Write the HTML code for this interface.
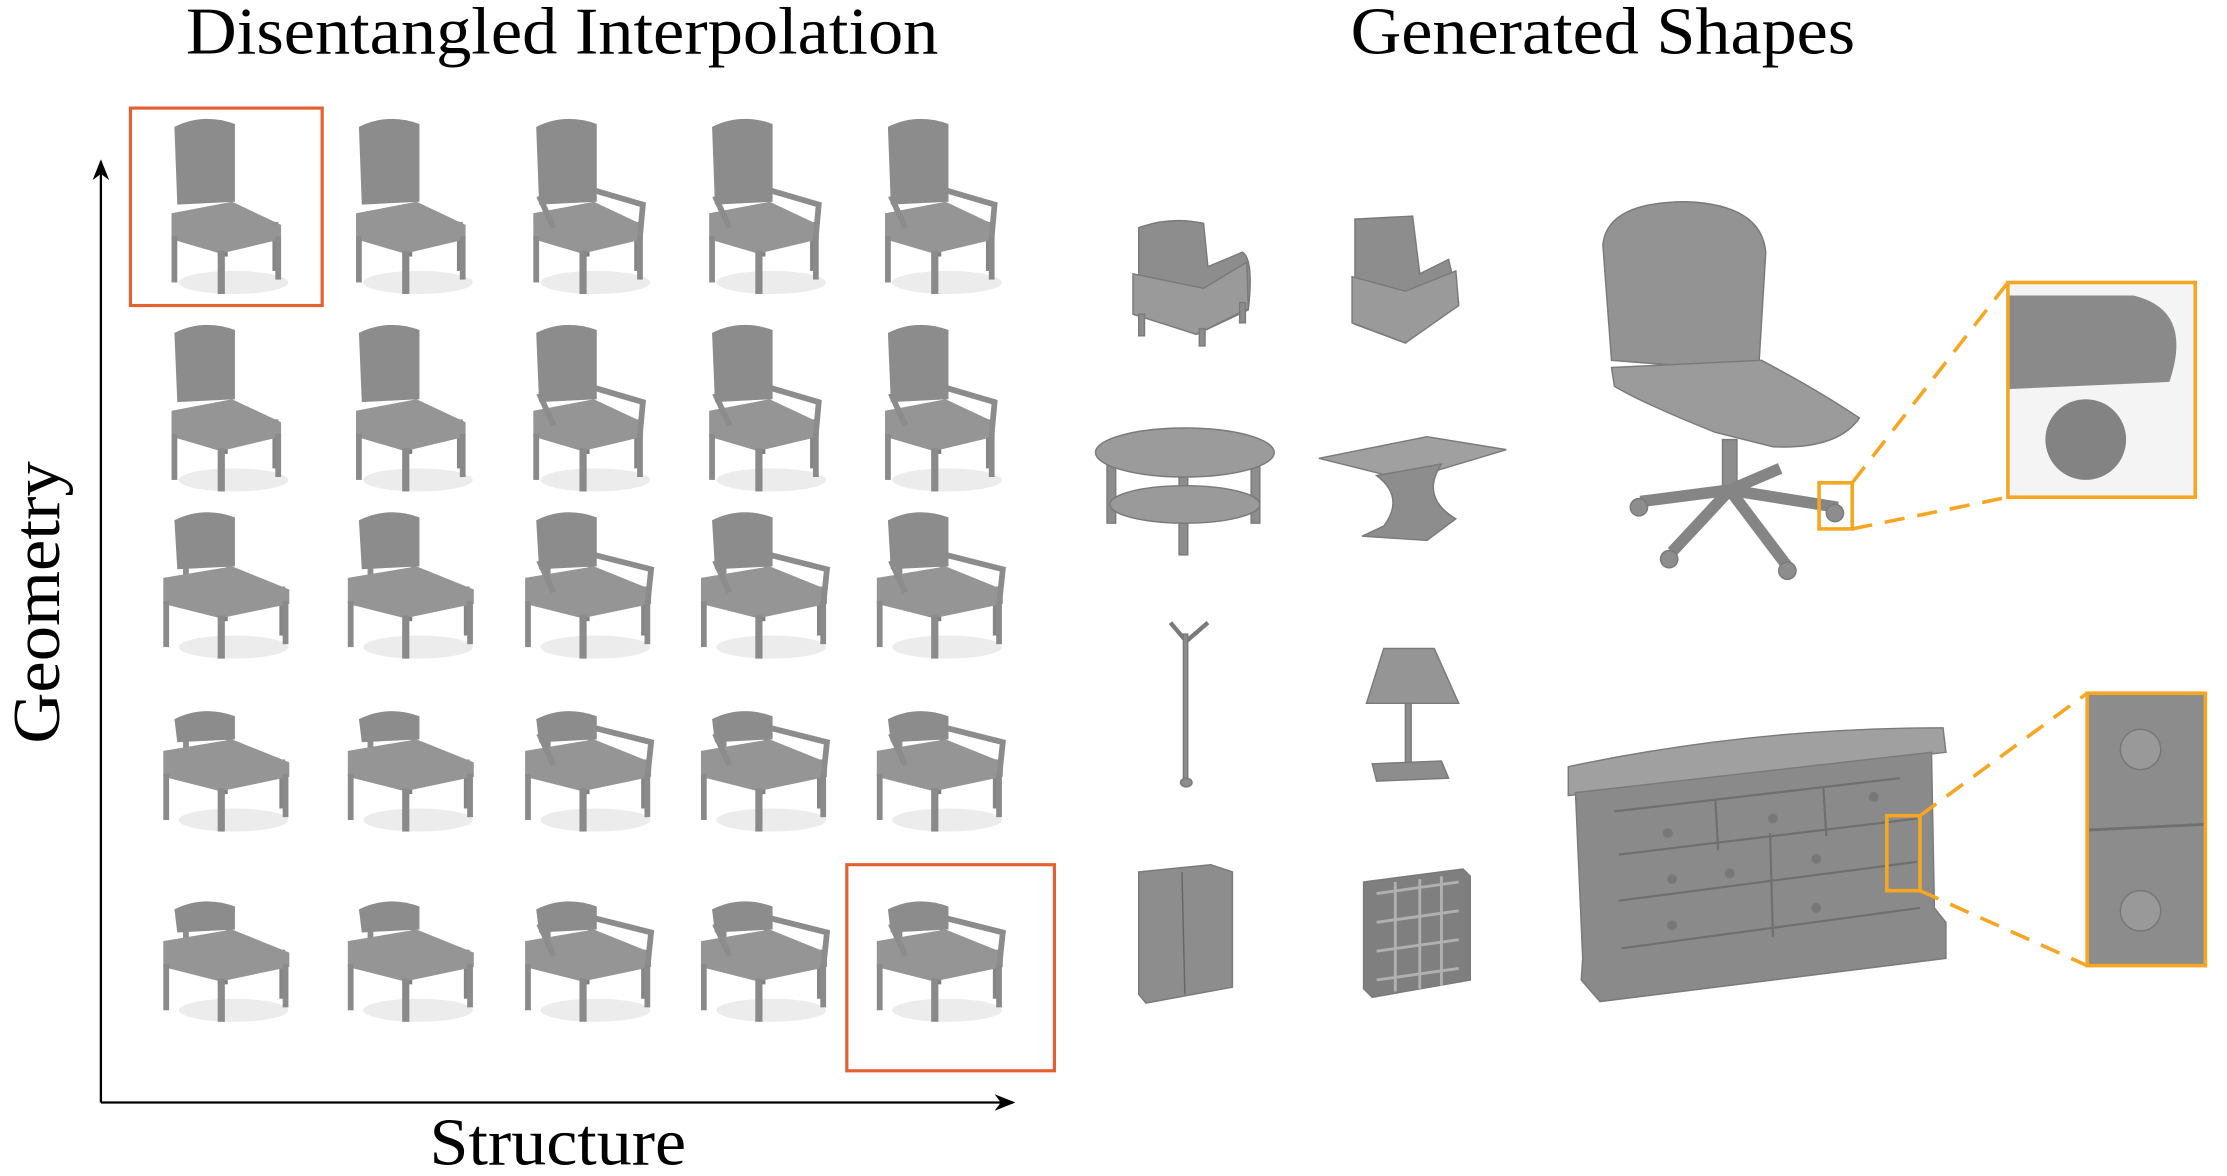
<!DOCTYPE html>
<html><head><meta charset="utf-8"><style>
html,body{margin:0;padding:0;background:#fff;width:2227px;height:1176px;overflow:hidden}
svg{display:block}
text{font-family:"Liberation Serif","Times New Roman",serif;fill:#000}
</style></head><body>
<svg id="s" width="2227" height="1176" viewBox="0 0 1545 816" preserveAspectRatio="none" xmlns="http://www.w3.org/2000/svg">
<defs>
<marker id="ah" viewBox="0 0 10 10" refX="9" refY="5" markerWidth="9" markerHeight="9" orient="auto"><path d="M0,1 L10,5 L0,9 L3,5 z" fill="#000"/></marker>
</defs>
<text x="390" y="37" font-size="46" font-family="Liberation Serif" text-anchor="middle" textLength="522" lengthAdjust="spacingAndGlyphs">Disentangled Interpolation</text>
<text x="1112" y="37" font-size="46" font-family="Liberation Serif" text-anchor="middle" textLength="350" lengthAdjust="spacingAndGlyphs">Generated Shapes</text>
<text x="387" y="808" font-size="46" font-family="Liberation Serif" text-anchor="middle" textLength="178" lengthAdjust="spacingAndGlyphs">Structure</text>
<text transform="translate(41,418) rotate(-90)" font-size="46" font-family="Liberation Serif" text-anchor="middle" textLength="196" lengthAdjust="spacingAndGlyphs">Geometry</text>
<line x1="70" y1="765" x2="70" y2="112" stroke="#000" stroke-width="1.6" marker-end="url(#ah)"/>
<line x1="70" y1="765" x2="703" y2="765" stroke="#000" stroke-width="1.6" marker-end="url(#ah)"/>
<g id="chairs"></g>
<rect x="90.5" y="75" width="133" height="137" fill="none" stroke="#e2612f" stroke-width="2.2"/>
<rect x="587.5" y="600" width="144" height="143" fill="none" stroke="#e2612f" stroke-width="2.2"/>

<g fill="#8d8d8d" stroke="#7a7a7a" stroke-width="1">
<path d="M790,158 Q812,150 835,155 L838,185 L862,175 Q870,180 866,215 L830,232 L790,218 Z"/>
<path d="M786,190 L835,200 L865,182 L866,214 L830,232 L786,218Z" fill="#9a9a9a"/>
<rect x="790" y="218" width="4" height="15"/><rect x="832" y="228" width="4" height="12"/><rect x="860" y="210" width="4" height="14"/>
<path d="M940,152 L980,150 L985,190 L1005,180 L1012,210 L975,238 L940,225 Z"/>
<path d="M938,192 L975,202 L1010,188 L1012,212 L975,238 L938,224Z" fill="#9a9a9a"/>
<rect x="768" y="318" width="6" height="45"/><rect x="818" y="330" width="6" height="55"/><rect x="868" y="318" width="6" height="45"/>
<ellipse cx="822" cy="350" rx="52" ry="13" fill="#9a9a9a"/>
<ellipse cx="822" cy="314" rx="62" ry="17" fill="#9b9b9b"/>
<path d="M915,318 L990,303 L1045,312 L975,333 Z" fill="#a0a0a0"/>
<path d="M955,330 Q975,345 960,365 L945,372 L990,375 L1010,360 Q985,345 1000,322 Z"/>
<path d="M812,432 L823,445 L838,432" fill="none" stroke-width="3"/>
<rect x="821" y="440" width="3" height="100"/><ellipse cx="823" cy="543" rx="4" ry="3"/>
<path d="M960,450 L995,450 L1012,488 L948,488 Z" fill="#959595"/>
<rect x="975" y="488" width="4" height="42"/><path d="M952,530 L1000,528 L1005,540 L955,542Z"/>
<path d="M790,605 L840,600 L855,605 L855,685 L795,696 L790,690Z"/>
<line x1="820" y1="605" x2="822" y2="690" stroke="#666"/>
<path d="M946,612 L1015,603 L1020,608 L1020,680 L952,692 L946,686Z" fill="#7f7f7f"/>
<path d="M955,620 L1012,612 M955,640 L1012,632 M955,660 L1012,652 M955,680 L1012,672 M968,612 L968,688 M985,610 L985,686 M1000,608 L1000,684" stroke="#b0b0b0" stroke-width="2" fill="none"/>
<path d="M1112,170 Q1115,140 1170,140 Q1222,142 1225,175 L1220,258 L1118,250 Z" fill="#939393"/>
<path d="M1118,255 L1222,250 Q1260,270 1290,290 Q1275,312 1230,310 L1190,300 Q1140,280 1120,268Z" fill="#9b9b9b"/>
<rect x="1195" y="305" width="10" height="35"/>
<path d="M1200,340 L1138,348 M1200,340 L1160,383 M1200,340 L1240,393 M1200,340 L1275,352 M1200,340 L1235,325" stroke="#858585" stroke-width="8" fill="none"/>
<circle cx="1137" cy="352" r="6"/><circle cx="1158" cy="388" r="6"/><circle cx="1240" cy="396" r="6"/><circle cx="1273" cy="356" r="6"/>
<path d="M1088,532 Q1215,505 1348,505 L1350,522 L1088,552 Z" fill="#a0a0a0"/>
<path d="M1093,550 L1340,522 L1342,630 L1350,640 L1350,665 L1110,695 L1097,680 L1098,665Z" fill="#8a8a8a"/>
<path d="M1120,563 L1318,540 M1123,593 L1330,568 M1123,625 L1330,598 M1125,658 L1332,630 M1190,555 L1192,590 M1265,547 L1267,580 M1228,578 L1230,650" stroke="#6f6f6f" stroke-width="1.5" fill="none"/>
<g fill="#777"><circle cx="1157" cy="578" r="3"/><circle cx="1230" cy="568" r="3"/><circle cx="1300" cy="553" r="3"/><circle cx="1160" cy="610" r="3"/><circle cx="1200" cy="606" r="3"/><circle cx="1260" cy="596" r="3"/><circle cx="1160" cy="642" r="3"/><circle cx="1260" cy="630" r="3"/></g>
</g>
<rect x="1393" y="196" width="130" height="149" fill="#f4f4f4"/>
<path d="M1393,205 L1480,205 Q1522,215 1505,265 L1393,270Z" fill="#8a8a8a"/>
<circle cx="1447" cy="305" r="28" fill="#838383"/>
<rect x="1448" y="481" width="82" height="189" fill="#8c8c8c"/>
<line x1="1448" y1="576" x2="1530" y2="572" stroke="#707070" stroke-width="2"/>
<circle cx="1485" cy="520" r="14" fill="#999" stroke="#777"/>
<circle cx="1485" cy="632" r="14" fill="#999" stroke="#777"/>
<g fill="none" stroke="#f5a623" stroke-width="2.5">
<rect x="1393" y="196" width="130" height="149"/>
<rect x="1262" y="335" width="23" height="32"/>
<rect x="1448" y="481" width="82" height="189"/>
<rect x="1309" y="566" width="23" height="52"/>
<g stroke-dasharray="14,9">
<line x1="1285" y1="335" x2="1393" y2="196"/><line x1="1285" y1="367" x2="1393" y2="345"/>
<line x1="1332" y1="566" x2="1448" y2="481"/><line x1="1332" y1="618" x2="1448" y2="670"/>
</g></g>
</svg>
<script>
var g=document.getElementById('chairs'),NS='http://www.w3.org/2000/svg';
function el(t,a){var e=document.createElementNS(NS,t);for(var k in a)e.setAttribute(k,a[k]);g.appendChild(e);return e;}
var cols=[157,285,408,530,652],tops=[82,225,355,493,625],bh=[58,52,38,20,20];
for(var r=0;r<5;r++)for(var c=0;c<5;c++){
 var x=cols[c],t=tops[r],h=bh[r],w=r>=2?1.15:1,arm=c>=2;
 var sy=t+h;
 el('ellipse',{cx:x+5,cy:sy+56,rx:38,ry:8,fill:'#ececec'});
 var f='#8c8c8c';
 el('rect',{x:x+32*w,y:sy+14,width:4,height:34,fill:'#858585'});
 el('rect',{x:x-3,y:sy+10,width:4,height:28,fill:'#7e7e7e'});
 el('path',{d:'M'+(x-36)+','+(t+6)+' Q'+(x-16)+','+(t-4)+' '+(x+6)+','+(t+4)+' L'+(x+6)+','+(sy)+' L'+(x-34)+','+(sy+2)+' Z',fill:f});
 if(r>=2){el('rect',{x:x-30,y:sy,width:4,height:14,fill:f});el('rect',{x:x,y:sy-2,width:4,height:14,fill:f});}
 el('path',{d:'M'+(x-38*w)+','+(sy+8)+' L'+(x+4)+','+(sy)+' L'+(x+38*w)+','+(sy+16)+' L'+(x+38*w)+','+(sy+26)+' L'+(x-4)+','+(sy+36)+' L'+(x-38*w)+','+(sy+26)+' Z',fill:'#959595'});
 el('rect',{x:x-38*w,y:sy+24,width:4,height:32,fill:'#8a8a8a'});
 el('rect',{x:x-6,y:sy+34,width:5,height:30,fill:'#8a8a8a'});
 el('rect',{x:x+34*w,y:sy+24,width:4,height:30,fill:'#8a8a8a'});
 if(arm){el('path',{d:'M'+(x+4)+','+(sy-8)+' L'+(x+38*w)+','+(sy+2)+' L'+(x+36*w)+','+(sy+24),stroke:'#8c8c8c','stroke-width':4,fill:'none'});
  el('path',{d:'M'+(x-34)+','+(sy-4)+' L'+(x-24)+','+(sy+18),stroke:'#8c8c8c','stroke-width':4,fill:'none'});}
}
</script>
</body></html>
